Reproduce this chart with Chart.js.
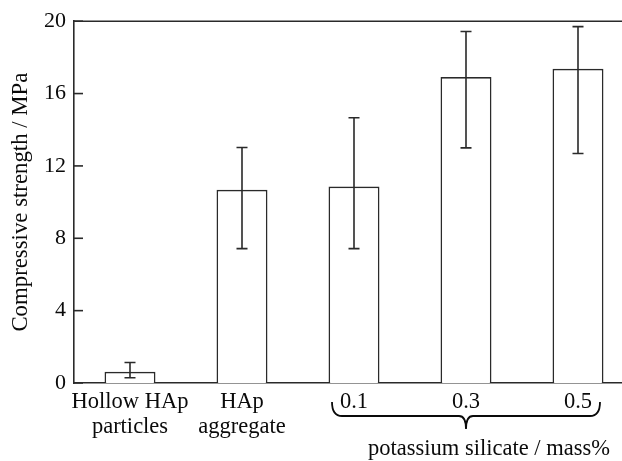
<!DOCTYPE html>
<html>
<head>
<meta charset="utf-8">
<script src="https://cdn.jsdelivr.net/npm/chart.js@4"></script>
<style>
  html, body { margin: 0; padding: 0; background: #fff; overflow: hidden; }
  #wrap { width: 640px; height: 461px; }
</style>
</head>
<body>
<div id="wrap"><canvas id="strengthChart"></canvas></div>
<script>
// categories and values
const categories = [['Hollow HAp', 'particles'], ['HAp', 'aggregate'], '0.1', '0.3', '0.5'];
const strength = [0.62, 10.68, 10.86, 16.91, 17.37];
const errLow = [0.29, 7.43, 7.43, 13.0, 12.69];
const errHigh = [1.13, 13.02, 14.66, 19.43, 19.7];
const yTicks = [0, 4, 8, 12, 16, 20];
const groupLabel = 'potassium silicate / mass%';

const ink = '#0a0a0a';
const lineCol = '#2a2a2a';
const serif = "'Liberation Serif', 'Times New Roman', serif";

// error bars, inward ticks, top frame line, brace + group label
const extras = {
  id: 'extras',
  afterDatasetsDraw(chart) {
    const ctx = chart.ctx;
    const y = chart.scales.y;
    const x = chart.scales.x;
    const area = chart.chartArea;
    const bars = chart.getDatasetMeta(0).data;
    ctx.save();
    ctx.strokeStyle = lineCol;
    ctx.lineWidth = 1.6;

    // error bars
    bars.forEach((bar, i) => {
      const yl = y.getPixelForValue(errLow[i]);
      const yh = y.getPixelForValue(errHigh[i]);
      const cap = 5.5;
      ctx.beginPath();
      ctx.moveTo(bar.x, yl); ctx.lineTo(bar.x, yh);
      ctx.moveTo(bar.x - cap, yl); ctx.lineTo(bar.x + cap, yl);
      ctx.moveTo(bar.x - cap, yh); ctx.lineTo(bar.x + cap, yh);
      ctx.stroke();
    });

    // inward y ticks
    yTicks.forEach(v => {
      const py = y.getPixelForValue(v);
      ctx.beginPath();
      ctx.moveTo(area.left, py); ctx.lineTo(area.left + 9, py);
      ctx.stroke();
    });

    // top frame
    ctx.beginPath();
    ctx.moveTo(area.left, area.top); ctx.lineTo(area.right, area.top);
    ctx.stroke();

    // brace under 0.1 .. 0.5
    const x0 = x.getPixelForValue(2) - 22;
    const x1 = x.getPixelForValue(4) + 22;
    const xm = x.getPixelForValue(3);
    const top = area.bottom + 19;
    const mid = area.bottom + 33;
    const tip = area.bottom + 46;
    ctx.lineWidth = 1.8;
    ctx.strokeStyle = ink;
    ctx.beginPath();
    ctx.moveTo(x0, top);
    ctx.quadraticCurveTo(x0, mid, x0 + 10, mid);
    ctx.lineTo(xm - 7, mid);
    ctx.quadraticCurveTo(xm, mid, xm, tip);
    ctx.quadraticCurveTo(xm, mid, xm + 7, mid);
    ctx.lineTo(x1 - 10, mid);
    ctx.quadraticCurveTo(x1, mid, x1, top);
    ctx.stroke();

    ctx.fillStyle = ink;
    ctx.font = '22.5px ' + serif;
    ctx.textAlign = 'center';
    ctx.textBaseline = 'alphabetic';
    ctx.fillText(groupLabel, xm + 23, area.bottom + 72);
    ctx.restore();
  }
};

const data = {
  labels: categories,
  datasets: [{
    data: strength,
    backgroundColor: '#fff',
    borderColor: lineCol,
    borderWidth: 1.6,
    barPercentage: 0.455,
    categoryPercentage: 1.0
  }]
};

const config = {
  type: 'bar',
  data: data,
  plugins: [extras],
  options: {
    responsive: true,
    maintainAspectRatio: false,
    animation: false,
    layout: { padding: { top: 19, right: 6, left: 7, bottom: 0 } },
    plugins: { legend: { display: false }, tooltip: { enabled: false } },
    scales: {
      x: {
        grid: { display: false, drawTicks: false },
        border: { display: true, color: lineCol, width: 1.6 },
        ticks: {
          color: ink,
          font: { family: serif, size: 22.5, lineHeight: 1.12 },
          padding: 6,
          maxRotation: 0,
          autoSkip: false
        },
        afterFit: (s) => { s.height = 78; }
      },
      y: {
        min: 0,
        max: 20,
        afterBuildTicks: (s) => { s.ticks = yTicks.map(v => ({ value: v })); },
        grid: { display: false, drawTicks: false },
        border: { display: true, color: lineCol, width: 1.6 },
        ticks: {
          color: ink,
          font: { family: serif, size: 22 },
          padding: 8
        },
        title: {
          display: true,
          text: 'Compressive strength / MPa',
          color: ink,
          font: { family: serif, size: 22.8 },
          padding: { top: 0, bottom: 2 }
        },
        afterFit: (s) => { s.width = 67; }
      }
    }
  }
};

const strengthChart = new Chart(
  document.getElementById('strengthChart').getContext('2d'),
  config
);
</script>
</body>
</html>
